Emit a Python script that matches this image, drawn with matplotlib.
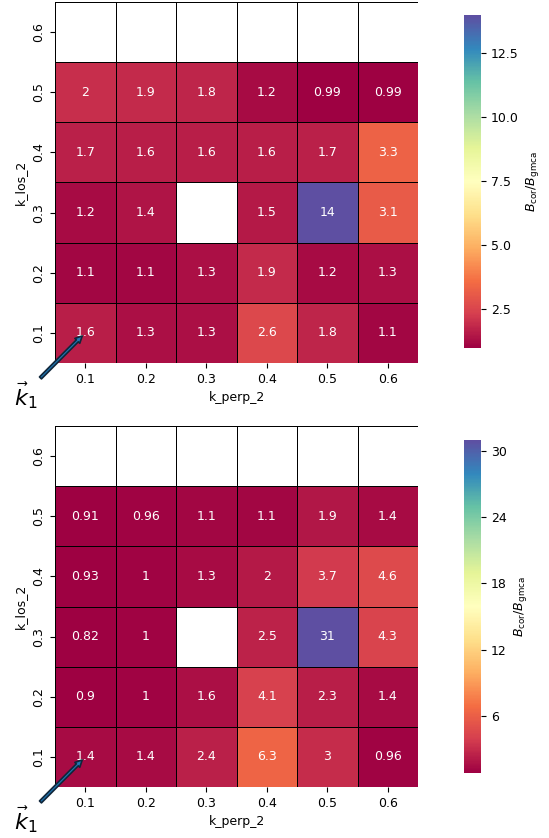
import numpy as np
import pandas as pd
import matplotlib
matplotlib.use("Agg")
import matplotlib.pyplot as plt
import seaborn as sns

nan = np.nan
k_perp = [0.1, 0.2, 0.3, 0.4, 0.5, 0.6]
k_los = [0.1, 0.2, 0.3, 0.4, 0.5, 0.6]

# rows listed from k_los = 0.1 up to 0.6
ratio_top = [
    [1.6, 1.3, 1.3, 2.6, 1.8, 1.1],
    [1.1, 1.1, 1.3, 1.9, 1.2, 1.3],
    [1.2, 1.4, nan, 1.5, 14, 3.1],
    [1.7, 1.6, 1.6, 1.6, 1.7, 3.3],
    [2.0, 1.9, 1.8, 1.2, 0.99, 0.99],
    [nan, nan, nan, nan, nan, nan],
]
ratio_bot = [
    [1.4, 1.4, 2.4, 6.3, 3.0, 0.96],
    [0.9, 1.0, 1.6, 4.1, 2.3, 1.4],
    [0.82, 1.0, nan, 2.5, 31, 4.3],
    [0.93, 1.0, 1.3, 2.0, 3.7, 4.6],
    [0.91, 0.96, 1.1, 1.1, 1.9, 1.4],
    [nan, nan, nan, nan, nan, nan],
]
ticks_top = [2.5, 5.0, 7.5, 10.0, 12.5]
ticks_bot = [6, 12, 18, 24, 30]

plt.rcParams["font.size"] = 9

W, H = 549, 838
fig = plt.figure(figsize=(W / 100, H / 100), dpi=100)


def px(x0, y0, w, h):
    # pixel box (top-left origin) -> figure fraction
    return [x0 / W, 1 - (y0 + h) / H, w / W, h / H]


panels = [
    (ratio_top, ticks_top, 2, 15),
    (ratio_bot, ticks_bot, 426, 440),
]

for data, cticks, top, ctop in panels:
    df = pd.DataFrame(data, index=k_los, columns=k_perp).iloc[::-1]
    df.index.name = "k_los_2"
    df.columns.name = "k_perp_2"
    ax = fig.add_axes(px(55, top, 363, 361))
    cax = fig.add_axes(px(464, ctop, 17, 333))
    sns.heatmap(df, ax=ax, cbar_ax=cax, cmap="Spectral", annot=True,
                linewidths=0.7, linecolor="black",
                cbar_kws={"ticks": cticks})
    cax.set_ylabel(r"$B_{\rm cor}/B_{\rm gmca}$")
    ax.annotate(r"$\vec{k}_1$", xy=(0.45, 5.55), xytext=(-0.48, 6.55),
                fontsize=16, ha="center", va="center", annotation_clip=False,
                arrowprops=dict(facecolor="#1f77b4", edgecolor="#10263a",
                                width=2, headwidth=5, headlength=5, lw=1.2))

fig.savefig("out.png", dpi=100)
